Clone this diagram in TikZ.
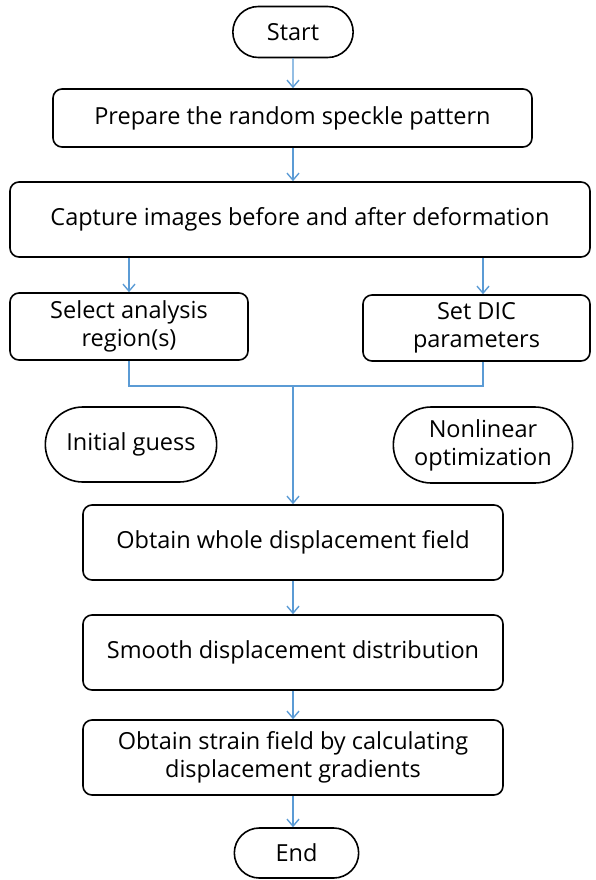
\documentclass[tikz,border=0pt]{standalone}
\usepackage{fontspec}
\setmainfont{Open Sans}
\usepackage{tikz}
\usetikzlibrary{positioning,arrows.meta,shapes.misc,calc}
\definecolor{flowblue}{RGB}{91,155,213}

\tikzset{
    box/.style={draw, line width=1.6pt, rounded corners=9pt, align=center, font=\fontsize{23.5}{28}\selectfont},
    term/.style={draw, line width=1.6pt, rounded rectangle, align=center, font=\fontsize{23.5}{28}\selectfont},
    flow/.style={-{Straight Barb[length=7pt, width=12pt]}, draw=flowblue, line width=1.4pt},
    link/.style={draw=flowblue, line width=1.4pt}
}

\begin{document}
\begin{tikzpicture}[x=1pt, y=-1pt]
    \useasboundingbox (0,0) rectangle (595,880);

    % Début
    \node[term, minimum width=127pt, minimum height=51pt] (start) at (293,32) {Start};

    % Préparation
    \node[box, minimum width=479pt, minimum height=58pt] (prepare) at (292.5,118) {Prepare the random speckle pattern};

    % Acquisition
    \node[box, minimum width=580pt, minimum height=75pt] (capture) at (300,219.5) {Capture images before and after deformation};

    % Deux branches
    \node[box, minimum width=238pt, minimum height=67pt] (select) at (129,326.5) {Select analysis\\region(s)};
    \node[box, minimum width=227pt, minimum height=66pt] (setdic) at (476.5,328) {Set DIC\\parameters};

    % Point de jonction
    \coordinate (merge) at (293,386);
    \coordinate (right) at (483,386);

    % Méthodes
    \node[term, minimum width=178pt, minimum height=75pt] (guess) at (131,444.5) {Initial guess};
    \node[term, minimum width=186pt, minimum height=76pt] (nonlin) at (483,445) {Nonlinear\\optimization};

    % Résultats
    \node[box, minimum width=420pt, minimum height=75pt] (whole) at (293,542.5) {Obtain whole displacement field};
    \node[box, minimum width=420pt, minimum height=75pt] (smooth) at (293,652.5) {Smooth displacement distribution};
    \node[box, minimum width=420pt, minimum height=75pt] (strain) at (293,757.5) {Obtain strain field by calculating\\displacement gradients};

    % Fin
    \node[term, minimum width=131pt, minimum height=50pt] (end) at (296.5,853) {End};

    % Flèches
    \draw[flow] (start) -- (start |- prepare.north);
    \draw[flow] (prepare.south -| start) -- (capture.north -| start);
    \draw[flow] (capture.south -| select) -- (select.north);
    \draw[flow] (capture.south -| right) -- (setdic.north -| right);
    \draw[link] (select.south) |- (merge) -- (right) -- (setdic.south -| right);
    \draw[flow] (merge) -- (whole.north -| merge);
    \draw[flow] (whole.south -| merge) -- (smooth.north -| merge);
    \draw[flow] (smooth.south -| merge) -- (strain.north -| merge);
    \draw[flow] (strain.south -| merge) -- (end.north -| merge);
\end{tikzpicture}
\end{document}
